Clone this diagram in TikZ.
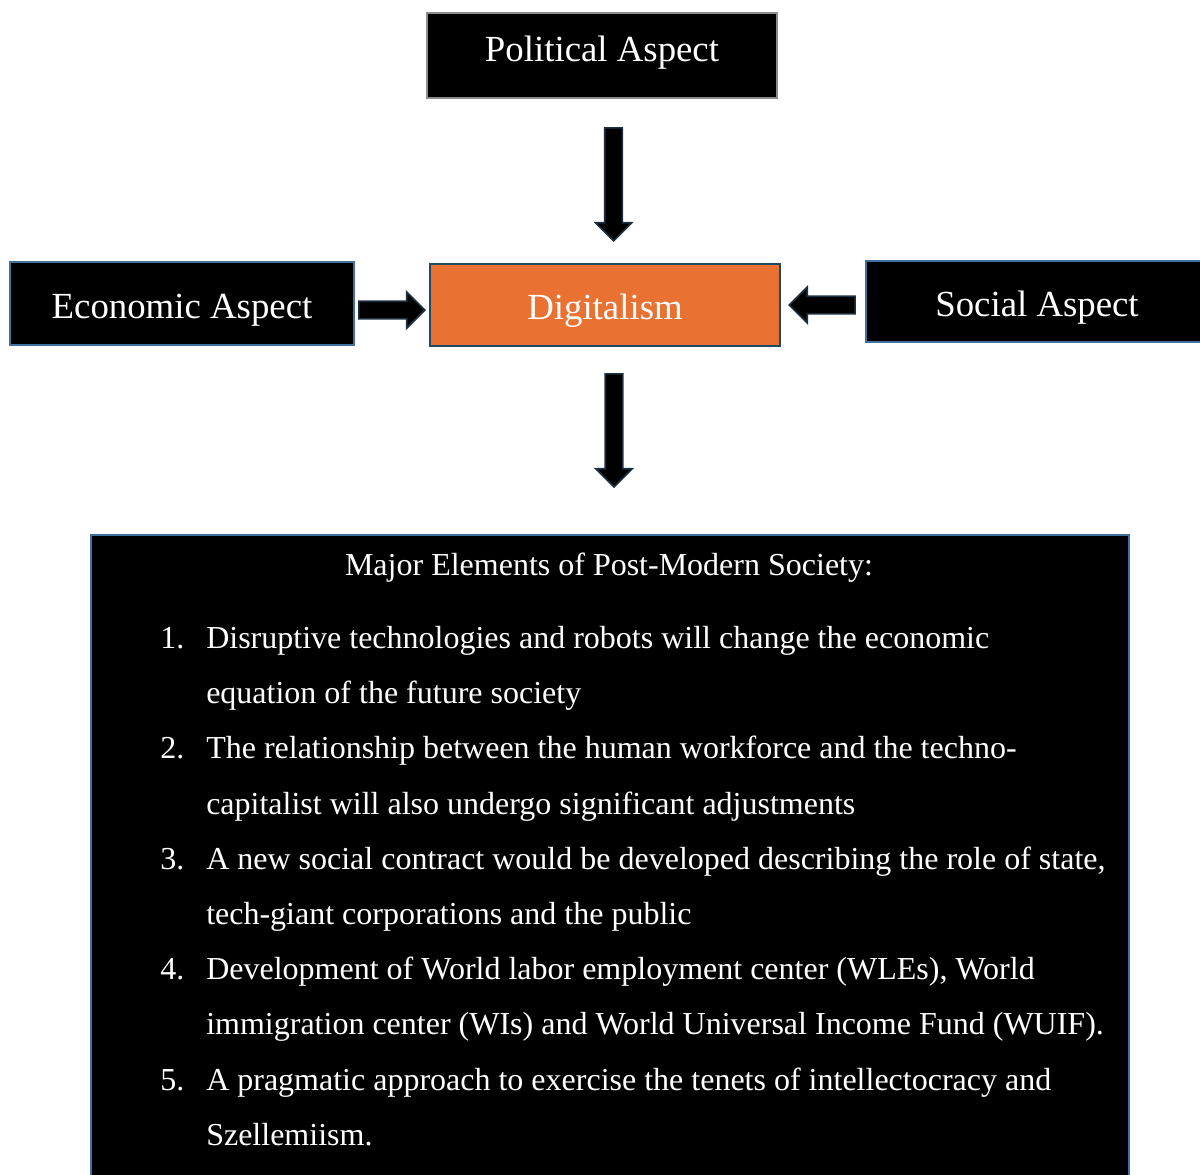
\documentclass[tikz,border=0pt]{standalone}
\usepackage{fontspec}
\setmainfont{Liberation Serif}
\usepackage{tikz}
\usetikzlibrary{shapes,arrows}

\definecolor{boxblue}{HTML}{41719C}
\definecolor{boxgray}{HTML}{8C8C8C}
\definecolor{digitorange}{HTML}{E97132}
\definecolor{digitline}{HTML}{1F4A66}
\definecolor{arrowline}{HTML}{1E3040}

\begin{document}
\begin{tikzpicture}[x=0.75pt,y=0.75pt,yscale=-1,xscale=1,
    aspectbox/.style={rectangle, fill=black, draw=boxblue, line width=1.5pt, text=white, inner sep=0pt, text height=26pt, text depth=4pt, font=\fontsize{27.6}{33}\selectfont},
    blockarrow/.style={single arrow, fill=black, draw=arrowline, line width=1.2pt, inner xsep=0pt, inner ysep=6pt, single arrow head extend=7pt, single arrow tip angle=90, anchor=tip}]
    \useasboundingbox (0,0) rectangle (1200,1175);

    % Aspect Boxes
    \node [aspectbox, draw=boxgray, line width=0.8pt, text height=14pt, text depth=5.5pt, minimum width=262.5pt, minimum height=63.75pt] (political) at (602,55.5) {Political Aspect};
    \node [aspectbox, minimum width=258pt, minimum height=62.25pt] (economic) at (182,303.5) {Economic Aspect};
    \node [aspectbox, minimum width=256.5pt, minimum height=60.75pt] (social) at (1037,301.5) {Social Aspect};
    % Center Box
    \node [aspectbox, fill=digitorange, draw=digitline, minimum width=262.5pt, minimum height=61.5pt] (digital) at (605,305) {Digitalism};
    % Elements Box
    \node [rectangle, fill=black, draw=boxblue, line width=1.5pt, anchor=north west, minimum width=778.5pt, minimum height=525pt] (elements) at (90,534) {};

    % Block Arrows
    \node [blockarrow, rotate=-90, minimum height=84.75pt] (politicalarrow) at ([xshift=6.4pt,yshift=-15.75pt]digital.north) {};
    \node [blockarrow, minimum height=49.5pt] (economicarrow) at ([xshift=-2.25pt,yshift=3.75pt]digital.west) {};
    \node [blockarrow, rotate=180, minimum height=49.5pt] (socialarrow) at ([xshift=5.25pt]digital.east) {};
    \node [blockarrow, rotate=-90, minimum height=84.75pt] (elementsarrow) at ([xshift=3pt,yshift=-34.5pt]elements.north) {};

    % Text Node
    \node [text=white, inner sep=0pt, font=\fontsize{24}{29}\selectfont] (elementstitle) at (609,568) {Major Elements of Post-Modern Society:};
    % Text Node
    \node [text=white, inner sep=0pt, anchor=north west, align=left, font=\fontsize{24}{41.4}\selectfont] (elementslist) at (160,626) {%
      \makebox[34.5pt][l]{1.}Disruptive technologies and robots will change the economic\\
      \hspace*{34.5pt}equation of the future society\\
      \makebox[34.5pt][l]{2.}The relationship between the human workforce and the techno-\\
      \hspace*{34.5pt}capitalist will also undergo significant adjustments\\
      \makebox[34.5pt][l]{3.}A new social contract would be developed describing the role of state,\\
      \hspace*{34.5pt}tech-giant corporations and the public\\
      \makebox[34.5pt][l]{4.}Development of World labor employment center (WLEs), World\\
      \hspace*{34.5pt}immigration center (WIs) and World Universal Income Fund (WUIF).\\
      \makebox[34.5pt][l]{5.}A pragmatic approach to exercise the tenets of intellectocracy and\\
      \hspace*{34.5pt}Szellemiism.};

\end{tikzpicture}
\end{document}
